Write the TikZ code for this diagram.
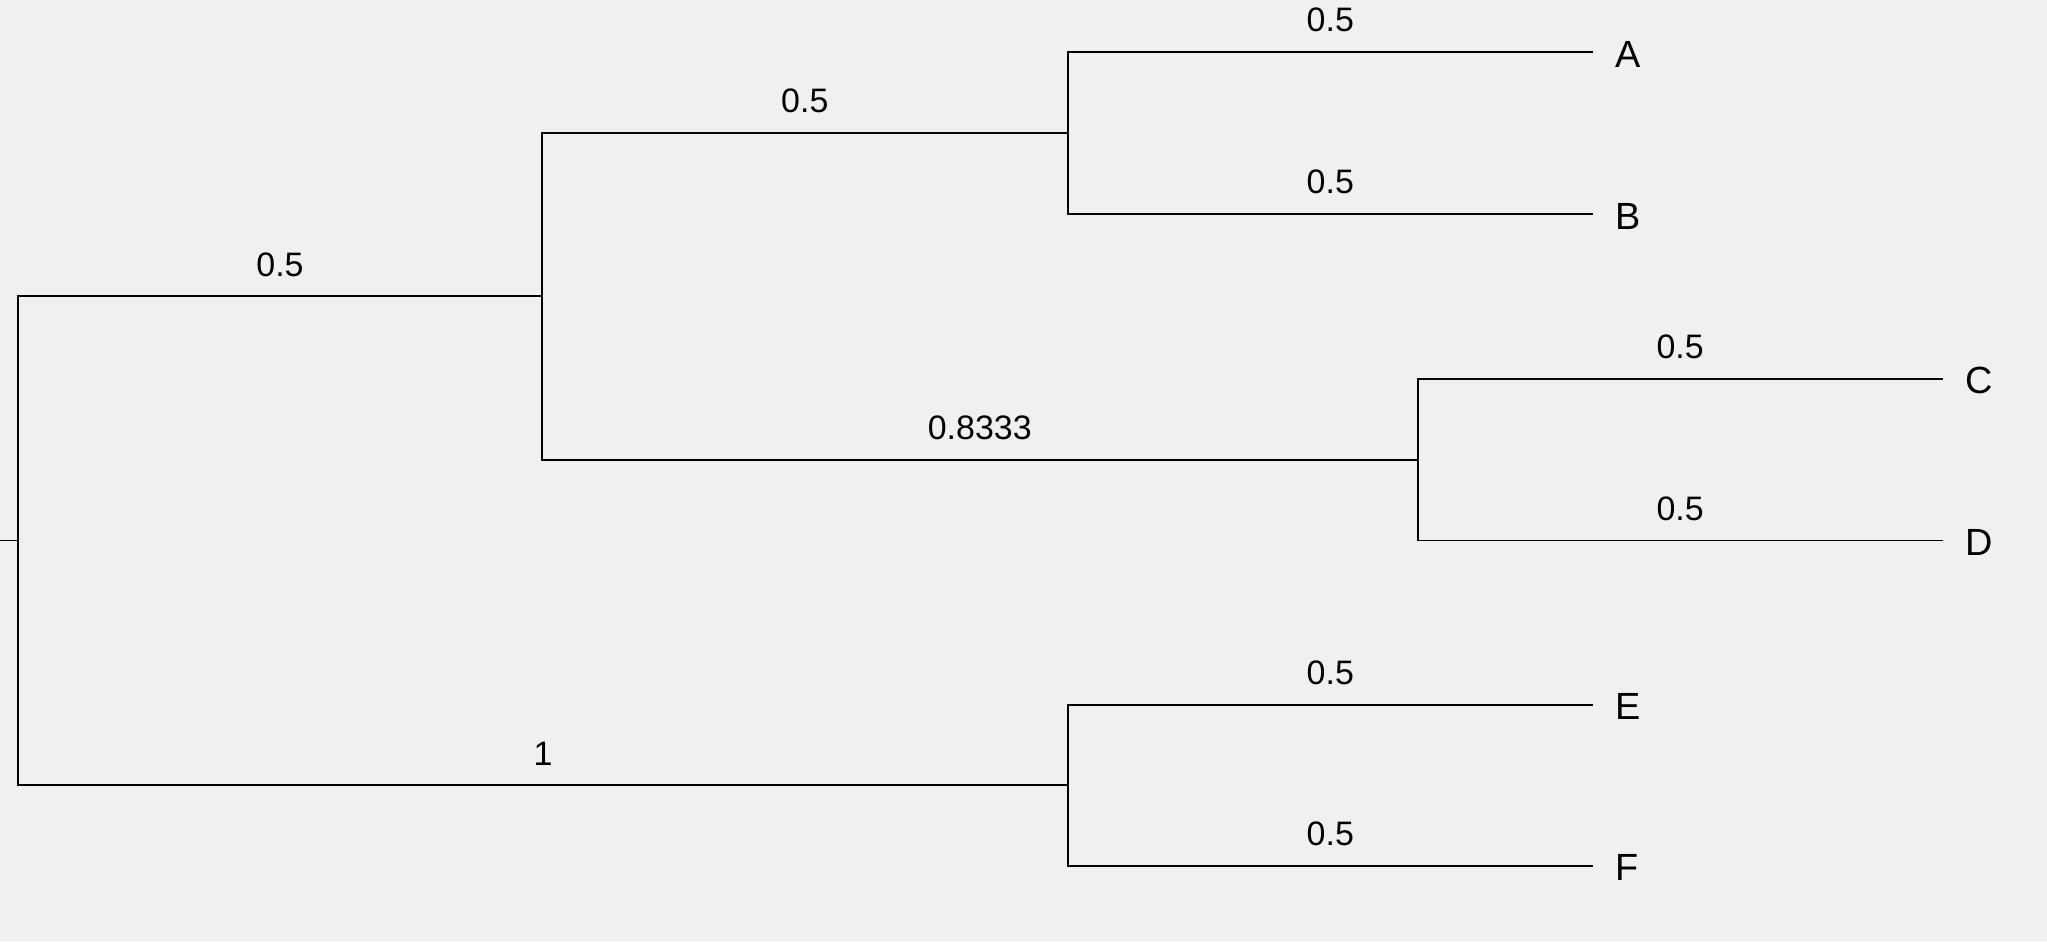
\documentclass[tikz,border=0pt]{standalone}
\usepackage{fontspec}
\setmainfont{Liberation Sans}
\definecolor{bg}{RGB}{240,240,240}
\begin{document}
\begin{tikzpicture}[x=1pt,y=-1pt,
  branch/.style={line width=1.5pt,black},
  blabel/.style={pos=0.75,anchor=base,yshift=15.5pt,inner sep=0pt,font=\fontsize{26}{30}\selectfont},
  leaf/.style={anchor=west,inner sep=0pt,xshift=17pt,yshift=-1.5pt,text depth=0pt,font=\fontsize{29}{33}\selectfont}]
\fill[bg] (0,0) rectangle (1568,721);
\useasboundingbox (0,0) rectangle (1568,721);
% internal nodes
\coordinate (r0) at (0,414);
\coordinate (r) at (14,414);
\coordinate (n1) at (415,227);
\coordinate (nAB) at (818,102);
\coordinate (nCD) at (1086,352);
\coordinate (nEF) at (818,601.5);
% leaf ends
\coordinate (tA) at (1220,40);
\coordinate (tB) at (1220,164);
\coordinate (tC) at (1488,290);
\coordinate (tD) at (1488,414);
\coordinate (tE) at (1220,540);
\coordinate (tF) at (1220,663);
\node[leaf] (A) at (tA) {A};
\node[leaf] (B) at (tB) {B};
\node[leaf] (C) at (tC) {C};
\node[leaf] (D) at (tD) {D};
\node[leaf] (E) at (tE) {E};
\node[leaf] (F) at (tF) {F};
% branches
\draw[branch] (r0) -- (r);
\draw[branch] (r) |- (n1) node[blabel] (l1) {0.5};
\draw[branch] (r) |- (nEF) node[blabel] (l2) {1};
\draw[branch] (n1) |- (nAB) node[blabel] (l3) {0.5};
\draw[branch] (n1) |- (nCD) node[blabel] (l4) {0.8333};
\draw[branch] (nAB) |- (tA) node[blabel] (l5) {0.5};
\draw[branch] (nAB) |- (tB) node[blabel] (l6) {0.5};
\draw[branch] (nCD) |- (tC) node[blabel] (l7) {0.5};
\draw[branch] (nCD) |- (tD) node[blabel] (l8) {0.5};
\draw[branch] (nEF) |- (tE) node[blabel] (l9) {0.5};
\draw[branch] (nEF) |- (tF) node[blabel] (l10) {0.5};
\end{tikzpicture}
\end{document}
